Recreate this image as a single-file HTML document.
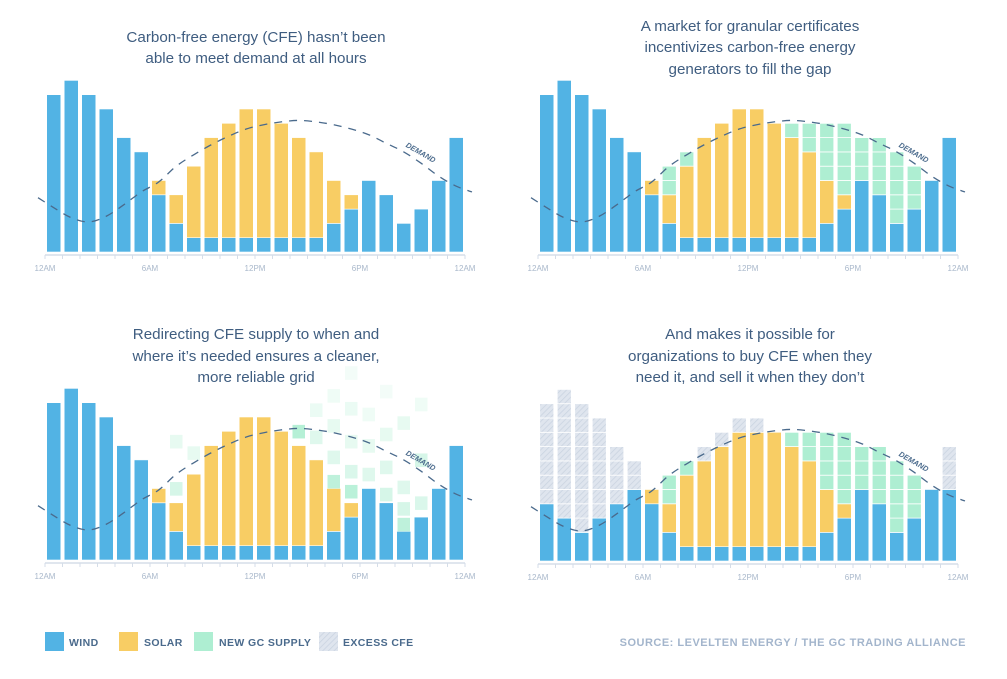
<!DOCTYPE html>
<html><head><meta charset="utf-8"><style>
body{margin:0;background:#fff;}
svg{display:block;font-family:"Liberation Sans",sans-serif;}
</style></head><body>
<svg id="chart" width="1007" height="679" viewBox="0 0 1007 679">
<defs>
<pattern id="hatch" width="4" height="4" patternUnits="userSpaceOnUse" patternTransform="rotate(45)">
<rect width="4" height="4" fill="#dfe5ee"/><line x1="0" y1="0" x2="0" y2="4" stroke="#c9d3e0" stroke-width="1.5"/>
</pattern>
</defs>
<g fill="#3f5d80" font-size="15.2" text-anchor="middle">
<text x="256" y="42">Carbon-free energy (CFE) hasn’t been</text>
<text x="256" y="63">able to meet demand at all hours</text></g>
<g fill="#3f5d80" font-size="15.2" text-anchor="middle">
<text x="750" y="31">A market for granular certificates</text>
<text x="750" y="52">incentivizes carbon-free energy</text>
<text x="750" y="74">generators to fill the gap</text></g>
<g fill="#3f5d80" font-size="15.2" text-anchor="middle">
<text x="256" y="339">Redirecting CFE supply to when and</text>
<text x="256" y="361">where it’s needed ensures a cleaner,</text>
<text x="256" y="382">more reliable grid</text></g>
<g fill="#3f5d80" font-size="15.2" text-anchor="middle">
<text x="750" y="339">And makes it possible for</text>
<text x="750" y="361">organizations to buy CFE when they</text>
<text x="750" y="382">need it, and sell it when they don’t</text></g>
<g font-size="10.5" font-weight="bold" fill="#4a6a8c" letter-spacing="0.4">
<g><rect x="45" y="632" width="19" height="19" fill="#52b3e4"/><text x="69" y="646">WIND</text></g>
<g><rect x="119" y="632" width="19" height="19" fill="#f8cd64"/><text x="144" y="646">SOLAR</text></g>
<g><rect x="194" y="632" width="19" height="19" fill="#aeeed2"/><text x="219" y="646">NEW GC SUPPLY</text></g>
<g><rect x="319" y="632" width="19" height="19" fill="url(#hatch)"/><text x="343" y="646">EXCESS CFE</text></g>
</g>
<text x="966" y="646" text-anchor="end" font-size="11" font-weight="bold" fill="#a3b5cc" letter-spacing="0.5">SOURCE: LEVELTEN ENERGY / THE GC TRADING ALLIANCE</text>
</svg>
<script>
const tickLabels = ["12AM","6AM","12PM","6PM","12AM"];
const p1Wind  = [11,12,11,10,8,7,4,2,1,1,1,1,1,1,1,1,2,3,5,4,2,3,5,8];
const p1Solar = [0,0,0,0,0,0,1,2,5,7,8,9,9,8,7,6,3,1,0,0,0,0,0,0];
const p2Green = [0,0,0,0,0,0,0,2,1,0,0,0,0,0,1,2,4,5,3,4,5,3,0,0];
const p4Wind  = [4,3,2,3,4,5,4,2,1,1,1,1,1,1,1,1,2,3,5,4,2,3,5,5];
const p4Solar = [0,0,0,0,0,0,1,2,5,6,7,8,8,8,7,6,3,1,0,0,0,0,0,0];
const p4Excess= [7,9,9,7,4,2,0,0,0,1,1,1,1,0,0,0,0,0,0,0,0,0,0,3];
const demand  = [3.1,2.4,2.1,2.5,3.3,4.2,4.9,6.0,6.8,7.5,8.1,8.6,8.9,9.1,9.2,9.1,8.9,8.6,8.2,7.6,7.0,6.2,5.3,4.6];
const floatHour  = [7,7,8,14,15,15,16,16,16,16,17,17,17,17,17,18,18,18,19,19,19,19,20,20,20,20,21,21,21];
const floatLevel = [7.8,4.5,7.0,8.5,10.0,8.1,11.0,8.9,6.7,5.0,12.6,10.1,7.8,5.7,4.3,9.7,7.5,5.5,11.3,8.3,6.0,4.1,9.1,4.6,3.1,2.0,10.4,6.5,3.5];
const floatAlpha = [0.3,0.5,0.3,0.9,0.25,0.4,0.2,0.3,0.4,0.8,0.15,0.25,0.3,0.45,0.85,0.2,0.3,0.4,0.15,0.3,0.4,0.5,0.3,0.4,0.5,0.8,0.2,0.5,0.45];

const NS="http://www.w3.org/2000/svg";
const svg=document.getElementById('chart');
const UNIT=14.3, HR=17.5;
function mk(tag,attrs,parent){const e=document.createElementNS(NS,tag);for(const k in attrs)e.setAttribute(k,attrs[k]);parent.appendChild(e);return e;}

function panel(idx,x0,base,wind,solar,green,excess,floats){
  const g=mk('g',{},svg);
  
  
  const xs=h=>x0+h*HR;
  const ys=v=>base-v*UNIT;
  const ax=mk('line',{x1:xs(0),x2:xs(24),y1:base+3,y2:base+3,stroke:'#d5dde8','stroke-width':1.5},g);
  
  
  for(let h=0;h<=24;h++){
    const t=mk('line',{x1:xs(h),x2:xs(h),y1:base+3,y2:base+7,stroke:'#d5dde8','stroke-width':1},g);
    
    
  }
  tickLabels.forEach((lb,i)=>{
    const t=mk('text',{x:xs(i*6),y:base+19,'text-anchor':'middle','font-size':8,fill:'#a9b8cb'},g);
    t.textContent=lb;
    
    
  });
  const bw=HR-3.4;
  for(let h=0;h<24;h++){
    const x=xs(h)+1.7;
    let lvl=0;
    const seg=(v,fill,blocks,name)=>{
      if(!v)return;
      if(blocks){
        for(let k=0;k<v;k++){
          const r=mk('rect',{x:x,y:ys(lvl+k+1),width:bw,height:UNIT,fill:fill,stroke:'#fff','stroke-width':0.8},g);
          
          
        }
      } else {
        const r=mk('rect',{x:x,y:ys(lvl+v),width:bw,height:v*UNIT,fill:fill,stroke:'#fff','stroke-width':0.6},g);
        
        
      }
      lvl+=v;
    };
    seg(wind[h],'#52b3e4',false,'bar-wind');
    seg(solar[h],'#f8cd64',false,'bar-solar');
    if(green)seg(green[h],'#aeeed2',true,'bar-new-gc');
    if(excess)seg(excess[h],'url(#hatch)',true,'bar-excess');
  }
  if(floats){
    for(let i=0;i<floatHour.length;i++){
      const r=mk('rect',{x:xs(floatHour[i])+2.5,y:ys(floatLevel[i]+0.95),width:bw-1.6,height:UNIT*0.95,fill:'#aeeed2','fill-opacity':floatAlpha[i]},g);
      
      
    }
  }
  const pts=[[-0.4,demand[0]+0.7]];
  demand.forEach((v,h)=>pts.push([h+0.5,v]));
  pts.push([24.4,demand[23]-0.4]);
  const P=pts.map(p=>[xs(p[0]),ys(p[1])]);
  let d='M'+P[0][0]+','+P[0][1];
  for(let i=0;i<P.length-1;i++){
    const p0=P[Math.max(0,i-1)],p1=P[i],p2=P[i+1],p3=P[Math.min(P.length-1,i+2)];
    const c1=[p1[0]+(p2[0]-p0[0])/6,p1[1]+(p2[1]-p0[1])/6];
    const c2=[p2[0]-(p3[0]-p1[0])/6,p2[1]-(p3[1]-p1[1])/6];
    d+=` C${c1[0]},${c1[1]} ${c2[0]},${c2[1]} ${p2[0]},${p2[1]}`;
  }
  const dl=mk('path',{d:d,fill:'none',stroke:'#4a6a8c','stroke-width':1.3,'stroke-dasharray':'8 7'},g);
  
  
  const lx=xs(21.4), ly=ys(demand[21]+0.6);
  const lt=mk('text',{x:lx,y:ly,'font-size':7.5,'font-weight':'bold','font-style':'italic',fill:'#4a6a8c','text-anchor':'middle',transform:`rotate(30 ${lx} ${ly})`},g);
  lt.textContent='DEMAND';
  
  
}
panel(1,45,252,p1Wind,p1Solar,null,null,false);
panel(2,538,252,p1Wind,p1Solar,p2Green,null,false);
panel(3,45,560,p1Wind,p1Solar,null,null,true);
panel(4,538,561,p4Wind,p4Solar,p2Green,p4Excess,false);
</script>
</body></html>
